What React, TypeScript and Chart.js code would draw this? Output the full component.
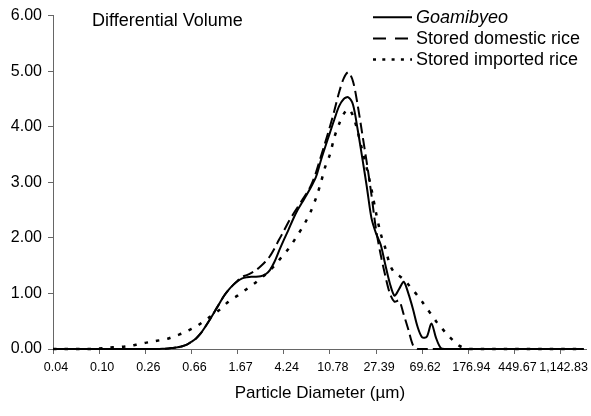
import React, { useEffect, useRef } from "react";
import { Chart, registerables } from "chart.js";

Chart.register(...registerables);

const FONT = "'Liberation Sans', Arial, sans-serif";

// Tick labels shown every 10 channels (particle diameter, µm)
const tickLabels = ["0.04", "0.10", "0.26", "0.66", "1.67", "4.24", "10.78", "27.39", "69.62", "176.94", "449.67", "1,142.83"];

const seriesNames = ["Goamibyeo", "Stored domestic rice", "Stored imported rice"];

// Differential volume (%) per size channel, channels 0..115
const goamibyeo = [
  0, 0, 0, 0, 0, 0, 0, 0, 0, 0,
  0, 0, 0, 0, 0, 0, 0, 0, 0, 0,
  0, 0, 0, 0, 0.005, 0.01, 0.02, 0.03, 0.05, 0.08,
  0.13, 0.19, 0.28, 0.40, 0.53, 0.67, 0.81, 0.95, 1.06, 1.15,
  1.22, 1.27, 1.29, 1.30, 1.30, 1.31, 1.34, 1.42, 1.57, 1.77,
  1.96, 2.14, 2.33, 2.50, 2.64, 2.78, 2.93, 3.10, 3.38, 3.64,
  3.89, 4.14, 4.37, 4.50, 4.53, 4.40, 3.96, 3.45, 2.92, 2.36,
  2.08, 1.88, 1.52, 1.18, 0.96, 1.08, 1.21, 1.00, 0.72, 0.40,
  0.21, 0.22, 0.46, 0.20, 0.02, 0, 0, 0, 0, 0,
  0, 0, 0, 0, 0, 0, 0, 0, 0, 0,
  0, 0, 0, 0, 0, 0, 0, 0, 0, 0,
  0, 0, 0, 0, 0, 0,
];

const storedDomestic = [
  0, 0, 0, 0, 0, 0, 0, 0, 0, 0,
  0, 0, 0, 0, 0, 0, 0, 0, 0, 0,
  0, 0, 0, 0, 0.005, 0.01, 0.02, 0.03, 0.05, 0.08,
  0.13, 0.19, 0.28, 0.40, 0.53, 0.67, 0.81, 0.95, 1.06, 1.15,
  1.23, 1.30, 1.33, 1.37, 1.42, 1.49, 1.57, 1.67, 1.81, 1.97,
  2.12, 2.28, 2.42, 2.55, 2.68, 2.81, 2.96, 3.18, 3.45, 3.72,
  4.00, 4.30, 4.62, 4.87, 4.98, 4.82, 4.40, 3.88, 3.35, 2.78,
  2.15, 1.70, 1.32, 1.00, 0.85, 0.87, 0.62, 0.35, 0.07, 0,
  0, 0, 0, 0, 0, 0, 0, 0, 0, 0,
  0, 0, 0, 0, 0, 0, 0, 0, 0, 0,
  0, 0, 0, 0, 0, 0, 0, 0, 0, 0,
  0, 0, 0, 0, 0, 0,
];

const storedImported = [
  0, 0, 0, 0, 0, 0, 0, 0, 0, 0,
  0.01, 0.015, 0.02, 0.03, 0.035, 0.04, 0.05, 0.06, 0.075, 0.09,
  0.11, 0.125, 0.14, 0.155, 0.17, 0.19, 0.22, 0.25, 0.28, 0.32,
  0.36, 0.40, 0.46, 0.52, 0.58, 0.64, 0.70, 0.78, 0.85, 0.91,
  0.96, 1.02, 1.08, 1.14, 1.20, 1.27, 1.34, 1.42, 1.50, 1.60,
  1.70, 1.80, 1.92, 2.05, 2.18, 2.33, 2.50, 2.72, 2.98, 3.28,
  3.50, 3.82, 4.05, 4.23, 4.32, 4.20, 3.92, 3.58, 3.25, 2.88,
  2.45, 2.08, 1.82, 1.52, 1.37, 1.32, 1.25, 1.16, 1.06, 0.96,
  0.85, 0.73, 0.62, 0.50, 0.40, 0.30, 0.21, 0.13, 0.06, 0.02,
  0, 0, 0, 0, 0, 0, 0, 0, 0, 0,
  0, 0, 0, 0, 0, 0, 0, 0, 0, 0,
  0, 0, 0, 0, 0, 0,
];

const lineDashes = [[], [11, 5], [3.5, 8]];
const lineWidths = [2, 2, 2.5];
const legendDashes = [[], [13, 9], [3, 6.3]];

const overlayPlugin = {
  id: "overlay",
  afterDraw(chart: any) {
    const ctx = chart.ctx as CanvasRenderingContext2D;
    ctx.save();
    ctx.fillStyle = "#000";
    ctx.textBaseline = "middle";
    ctx.textAlign = "left";
    ctx.font = `18px ${FONT}`;
    ctx.fillText("Differential Volume", 92, 21.5);
    const rowsY = [17.3, 38.6, 59.5];
    seriesNames.forEach((name, i) => {
      const y = rowsY[i];
      ctx.strokeStyle = "#000";
      ctx.lineWidth = lineWidths[i];
      ctx.lineCap = "butt";
      ctx.setLineDash(legendDashes[i]);
      ctx.beginPath();
      ctx.moveTo(373, y);
      ctx.lineTo(412, y);
      ctx.stroke();
      ctx.setLineDash([]);
      ctx.font = i === 0 ? `italic 18px ${FONT}` : `18px ${FONT}`;
      ctx.fillText(name, 416, y + 0.5);
    });
    ctx.restore();
  },
};

export default function App() {
  const ref = useRef<HTMLCanvasElement | null>(null);

  useEffect(() => {
    if (!ref.current) return;
    const all = [goamibyeo, storedDomestic, storedImported];
    const chart = new Chart(ref.current, {
      type: "line",
      data: {
        datasets: all.map((vals, i) => ({
          label: seriesNames[i],
          data: vals.map((y, x) => ({ x, y })),
          borderColor: "#000",
          borderWidth: lineWidths[i],
          borderDash: lineDashes[i],
          pointRadius: 0,
          fill: false,
          tension: 0.3,
          clip: false as any,
        })),
      },
      options: {
        responsive: false,
        animation: false,
        layout: { padding: { top: 15, right: 1, left: 0, bottom: 0 } },
        plugins: { legend: { display: false }, tooltip: { enabled: false }, title: { display: false } },
        scales: {
          x: {
            type: "linear",
            min: 0,
            max: 115.7,
            afterBuildTicks: (s: any) => {
              s.ticks = tickLabels.map((_, i) => ({ value: i * 10 }));
            },
            afterFit: (s: any) => {
              s.height = 67;
            },
            border: { display: true, color: "#666", width: 1 },
            grid: { display: true, drawOnChartArea: false, drawTicks: true, tickLength: 5, color: "#666" },
            ticks: {
              autoSkip: false,
              maxRotation: 0,
              minRotation: 0,
              padding: 6,
              labelOffset: 3,
              color: "#000",
              font: { family: FONT, size: 12.5 },
              callback: (_v: any, idx: number) => tickLabels[idx] ?? "",
            },
            title: {
              display: true,
              text: "Particle Diameter (µm)",
              color: "#000",
              font: { family: FONT, size: 17 },
              padding: { top: 0, bottom: 12 },
            },
          },
          y: {
            type: "linear",
            min: 0,
            max: 6,
            afterFit: (s: any) => {
              s.width = 53;
            },
            border: { display: true, color: "#666", width: 1 },
            grid: { display: true, drawOnChartArea: false, drawTicks: true, tickLength: 5, color: "#666" },
            ticks: {
              stepSize: 1,
              padding: 6,
              color: "#000",
              font: { family: FONT, size: 16 },
              callback: (v: any) => Number(v).toFixed(2),
            },
          },
        },
      },
      plugins: [overlayPlugin],
    });
    return () => chart.destroy();
  }, []);

  return (
    <div style={{ position: "absolute", left: 0, top: 0, width: 591, height: 416, background: "#fff" }}>
      <canvas ref={ref} width={591} height={416} style={{ display: "block" }} />
    </div>
  );
}
